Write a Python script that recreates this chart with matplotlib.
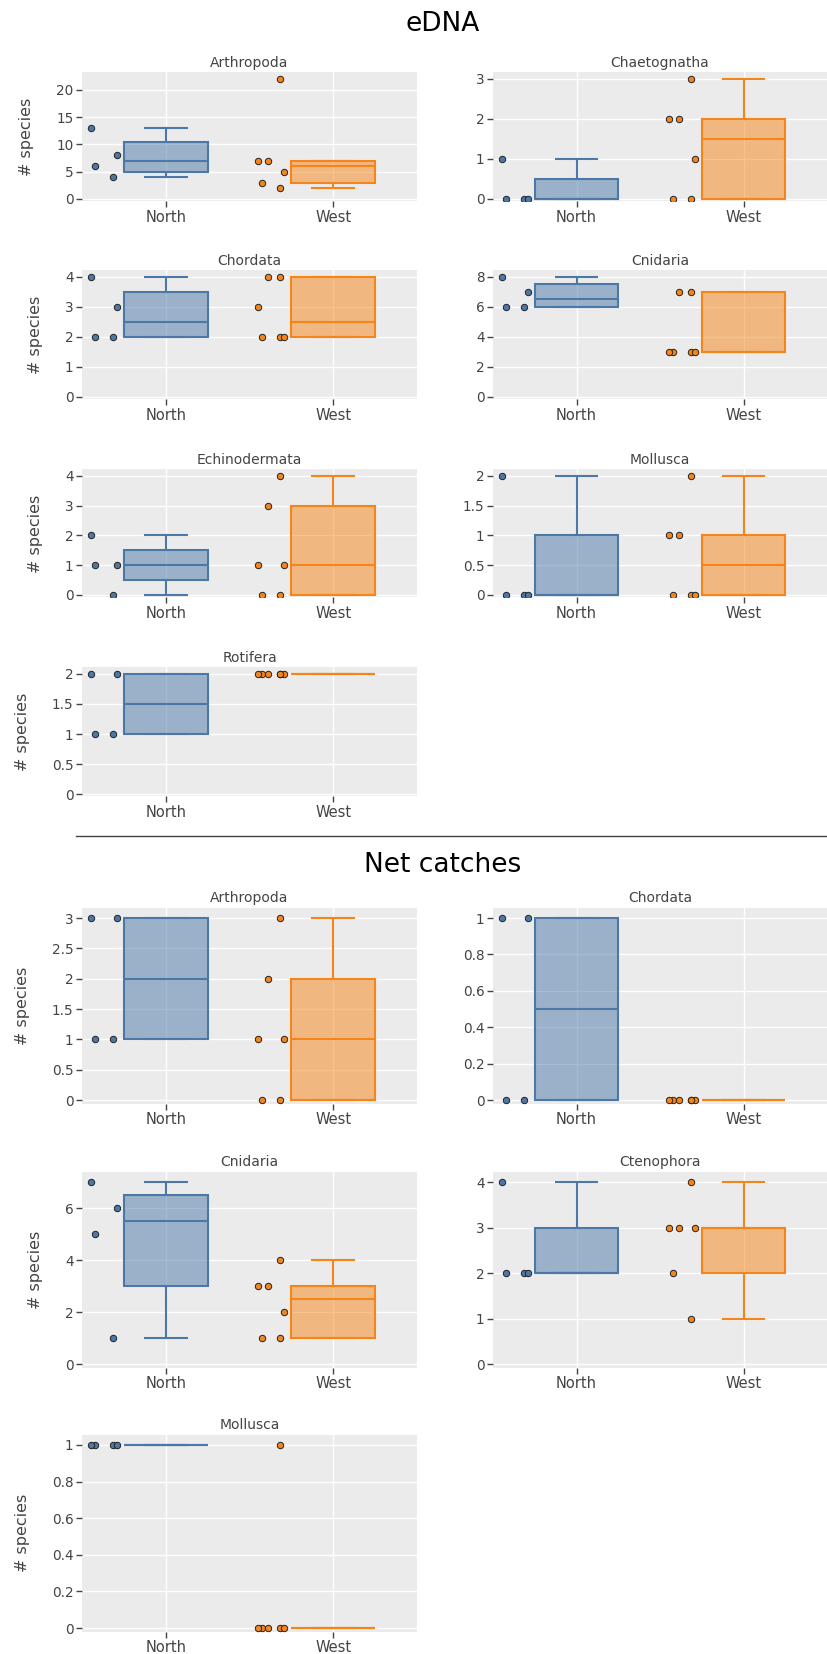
import numpy as np
import matplotlib
matplotlib.use("Agg")
import matplotlib.pyplot as plt
from matplotlib.lines import Line2D
from matplotlib.ticker import MultipleLocator, FuncFormatter
from matplotlib.colors import to_rgba

SITES = ["North", "West"]

# species counts per sample, sorted ascending
EDNA_TAXA = ["Arthropoda", "Chaetognatha", "Chordata", "Cnidaria",
             "Echinodermata", "Mollusca", "Rotifera"]
EDNA_NORTH = [[4, 6, 8, 13], [0, 0, 0, 1], [2, 2, 3, 4], [6, 6, 7, 8],
              [0, 1, 1, 2], [0, 0, 0, 2], [1, 1, 2, 2]]
EDNA_WEST = [[2, 3, 5, 7, 7, 22], [0, 0, 1, 2, 2, 3], [2, 2, 2, 3, 4, 4],
             [3, 3, 3, 3, 7, 7], [0, 0, 1, 1, 3, 4], [0, 0, 0, 1, 1, 2],
             [2, 2, 2, 2, 2, 2]]

NET_TAXA = ["Arthropoda", "Chordata", "Cnidaria", "Ctenophora", "Mollusca"]
NET_NORTH = [[1, 1, 3, 3], [0, 0, 1, 1], [1, 5, 6, 7], [2, 2, 2, 4],
             [1, 1, 1, 1]]
NET_WEST = [[0, 0, 1, 1, 2, 3], [0, 0, 0, 0, 0, 0], [1, 1, 2, 3, 3, 4],
            [1, 2, 3, 3, 3, 4], [0, 0, 0, 0, 0, 1]]

# y tick spacing for each panel
EDNA_STEPS = [5, 1, 1, 2, 1, 0.5, 0.5]
NET_STEPS = [0.5, 0.2, 2, 1, 0.2]

# fixed horizontal offsets of the sample points (category units)
JITTER = [-0.317, -0.425, -0.293, -0.449, -0.389, -0.317]

COLORS = ["#4C78A8", "#F58518"]
BG = "#EBEBEB"
TEXT = "#444444"

W, H = 827, 1654
fig = plt.figure(figsize=(W / 100, H / 100), dpi=100)
plt.rcParams["font.family"] = "DejaVu Sans"


def box_stats(vals):
    v = np.sort(np.asarray(vals, dtype=float))
    n = len(v)
    q1 = np.median(v[:n // 2])
    q3 = np.median(v[(n + 1) // 2:])
    iqr = q3 - q1
    lo = v[v >= q1 - 1.5 * iqr].min()
    hi = v[v <= q3 + 1.5 * iqr].max()
    return dict(med=np.median(v), q1=q1, q3=q3, whislo=lo, whishi=hi, fliers=[])


def panel(x0, x1, zero_px, max_px, title, north, west, step, ylabel):
    span = zero_px - max_px
    top = max_px - 0.055 * span
    bottom = zero_px + 0.02 * span
    ax = fig.add_axes([x0 / W, 1 - bottom / H, (x1 - x0) / W, (bottom - top) / H])
    ax.set_facecolor(BG)
    for s in ax.spines.values():
        s.set_visible(False)
    ymax = max(max(north), max(west))
    ax.set_ylim(-0.02 * ymax, 1.055 * ymax)
    ax.set_xlim(-0.5, 1.5)
    ax.set_axisbelow(True)
    ax.grid(True, color="white", linewidth=1)

    for i, vals in enumerate([north, west]):
        c = COLORS[i]
        ax.bxp([box_stats(vals)], positions=[i], widths=0.5, patch_artist=True,
               showfliers=False,
               boxprops=dict(facecolor=to_rgba(c, 0.5), edgecolor=c, linewidth=1.5),
               medianprops=dict(color=c, linewidth=1.5),
               whiskerprops=dict(color=c, linewidth=1.5),
               capprops=dict(color=c, linewidth=1.5))
        xs = [i + JITTER[k] for k in range(len(vals))]
        ax.plot(xs, vals, "o", markersize=4.6, markerfacecolor=c,
                markeredgecolor="#222222", markeredgewidth=0.7, zorder=4)

    ax.set_xticks([0, 1])
    ax.set_xticklabels(SITES)
    ax.yaxis.set_major_locator(MultipleLocator(step))
    ax.yaxis.set_major_formatter(FuncFormatter(lambda v, p: f"{v:g}"))
    ax.tick_params(axis="both", length=4, width=1, color=TEXT, labelcolor=TEXT, pad=2)
    ax.tick_params(axis="y", labelsize=9.8)
    ax.tick_params(axis="x", labelsize=10.5)
    ax.set_title(title, fontsize=10, color=TEXT, pad=4)
    if ylabel:
        ax.set_ylabel("# species", fontsize=11.5, color=TEXT, labelpad=16)
    return ax


COLS = [(82, 417), (493, 827)]

# eDNA block
edna_zero = [199, 397, 595, 794]
edna_max = [79, 277, 476, 674]
for k, taxon in enumerate(EDNA_TAXA):
    r, c = divmod(k, 2)
    panel(COLS[c][0], COLS[c][1], edna_zero[r], edna_max[r], taxon,
          EDNA_NORTH[k], EDNA_WEST[k], EDNA_STEPS[k], c == 0)

# net catch block
net_zero = [1100, 1364, 1628]
net_max = [918, 1182, 1445]
for k, taxon in enumerate(NET_TAXA):
    r, c = divmod(k, 2)
    panel(COLS[c][0], COLS[c][1], net_zero[r], net_max[r], taxon,
          NET_NORTH[k], NET_WEST[k], NET_STEPS[k], c == 0)

fig.text(443 / W, 1 - 24 / H, "eDNA", ha="center", va="center", fontsize=19, color="black")
fig.text(443 / W, 1 - 865 / H, "Net catches", ha="center", va="center", fontsize=19, color="black")
fig.add_artist(Line2D([76 / W, 1.0], [1 - 836 / H, 1 - 836 / H], color="#444444", linewidth=1))

fig.savefig("out.png", dpi=100)
